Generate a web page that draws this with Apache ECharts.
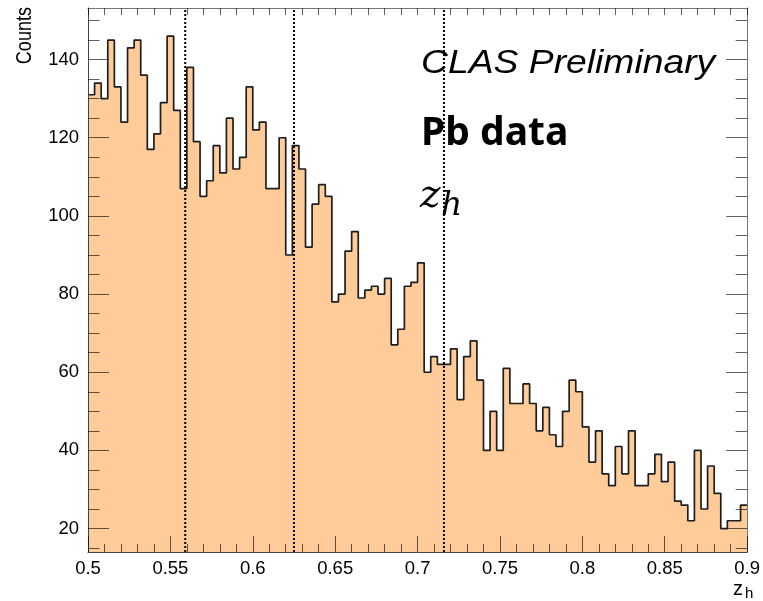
<!DOCTYPE html>
<html>
<head>
<meta charset="utf-8">
<script src="https://cdn.jsdelivr.net/npm/echarts@6/dist/echarts.min.js"></script>
<style>
  html, body { margin: 0; padding: 0; background: #fff; }
  #chart { width: 763px; height: 601px; }
</style>
</head>
<body>
<div id="chart"></div>
<script>
// z_h distribution, 100 uniform bins between 0.5 and 0.9
const zhRange = [0.5, 0.9];
const counts = [
  131, 134, 130, 145, 133, 124, 143, 145, 136, 117,
  121, 129, 146, 127, 107, 138, 119, 105, 109, 118,
  111, 125, 112, 115, 133, 122, 124, 107, 107, 120,
   90, 118, 112,  92, 103, 108, 105,  78,  80,  91,
   96,  79,  81,  82,  80,  84,  67,  71,  82,  83,
   88,  60,  64,  62,  62,  66,  53,  64,  68,  58,
   40,  50,  40,  61,  52,  52,  57,  52,  45,  51,
   44,  41,  50,  58,  55,  46,  37,  45,  34,  31,
   41,  34,  45,  31,  31,  34,  39,  32,  37,  27,
   26,  22,  40,  25,  36,  29,  20,  22,  22,  26
];
// z_h bin boundaries marked with dotted lines
const binCuts = [0.559, 0.625, 0.716];
// y-axis tick values
const yMajorTicks = [20, 40, 60, 80, 100, 120, 140];
const yMinorTicks = [15, 25, 30, 35, 45, 50, 55, 65, 70, 75, 85, 90, 95,
                     105, 110, 115, 125, 130, 135, 145, 150];
const yRange = [14, 153.2];

const binWidth = (zhRange[1] - zhRange[0]) / counts.length;
const stepData = counts.map((c, i) => [zhRange[0] + i * binWidth, c]);
stepData.push([zhRange[1], counts[counts.length - 1]]);

const tickColor = 'rgba(0,0,0,0.62)';
const labelFont = { fontSize: 18.5, color: '#000', fontFamily: 'Liberation Sans, Arial, sans-serif' };

const chart = echarts.init(document.getElementById('chart'), null, { renderer: 'canvas' });

function xAxisBase(pos) {
  return {
    type: 'value', position: pos, min: zhRange[0], max: zhRange[1], interval: 0.05,
    z: 6, splitLine: { show: false }, minorSplitLine: { show: false }
  };
}
function yAxisBase(pos) {
  return {
    type: 'value', position: pos, min: yRange[0], max: yRange[1],
    z: 6, splitLine: { show: false }
  };
}

// histogram outline + fill
const seriesList = [{
  type: 'line',
  xAxisIndex: 0,
  yAxisIndex: 0,
  step: 'end',
  data: stepData,
  symbol: 'none',
  lineStyle: { color: '#1e1e1e', width: 1.7 },
  areaStyle: { color: '#ffcc99', opacity: 1, origin: 'start' },
  z: 2
}];
// vertical dotted cut lines spanning the full frame height
binCuts.forEach(v => {
  seriesList.push({
    type: 'line',
    xAxisIndex: 0,
    yAxisIndex: 0,
    data: [[v, yRange[0]], [v, yRange[1]]],
    symbol: 'none',
    silent: true,
    lineStyle: { color: '#000', type: [2, 2], width: 2 },
    z: 4
  });
});

chart.setOption({
  animation: false,
  backgroundColor: '#fff',
  grid: { left: 88, right: 12, top: 8, bottom: 49, containLabel: false },
  xAxis: [
    Object.assign(xAxisBase('bottom'), {
      axisLine: { show: true, lineStyle: { color: '#444', width: 1 } },
      axisTick: { show: true, inside: true, length: 16, lineStyle: { color: tickColor, width: 1 } },
      minorTick: { show: true, splitNumber: 5, length: 8, lineStyle: { color: tickColor, width: 1 } },
      axisLabel: Object.assign({ margin: 7, formatter: v => String(+v.toFixed(2)) }, labelFont)
    }),
    Object.assign(xAxisBase('top'), {
      axisLine: { show: true, lineStyle: { color: '#777', width: 1 } },
      axisTick: { show: true, inside: true, length: 7, lineStyle: { color: tickColor, width: 1 } },
      minorTick: { show: true, splitNumber: 5, length: 7, lineStyle: { color: tickColor, width: 1 } },
      axisLabel: { show: false }
    })
  ],
  yAxis: [
    Object.assign(yAxisBase('left'), {
      axisLine: { show: true, lineStyle: { color: '#444', width: 1 } },
      axisTick: { show: true, inside: true, length: 21, customValues: yMajorTicks, lineStyle: { color: tickColor, width: 1 } },
      axisLabel: Object.assign({ margin: 9, customValues: yMajorTicks }, labelFont)
    }),
    Object.assign(yAxisBase('left'), {
      axisLine: { show: false },
      axisTick: { show: true, inside: true, length: 11.5, customValues: yMinorTicks, lineStyle: { color: tickColor, width: 1 } },
      axisLabel: { show: false }
    }),
    Object.assign(yAxisBase('right'), {
      axisLine: { show: true, lineStyle: { color: '#777', width: 1 } },
      axisTick: { show: true, inside: true, length: 21, customValues: yMajorTicks, lineStyle: { color: tickColor, width: 1 } },
      axisLabel: { show: false }
    }),
    Object.assign(yAxisBase('right'), {
      axisLine: { show: false },
      axisTick: { show: true, inside: true, length: 11.5, customValues: yMinorTicks, lineStyle: { color: tickColor, width: 1 } },
      axisLabel: { show: false }
    })
  ],
  series: seriesList,
  graphic: [
    { type: 'text', x: 25, y: 7, rotation: Math.PI / 2, scaleX: 0.82, z: 10,
      style: { text: 'Counts', font: '22px "Liberation Sans", Arial, sans-serif', fill: '#000',
               textAlign: 'right', textVerticalAlign: 'middle' } },
    { type: 'text', x: 733, y: 589, z: 10,
      style: { text: 'z', font: '20px "Liberation Sans", Arial, sans-serif', fill: '#000',
               textAlign: 'left', textVerticalAlign: 'middle' } },
    { type: 'text', x: 745, y: 594, z: 10,
      style: { text: 'h', font: '15px "Liberation Sans", Arial, sans-serif', fill: '#000',
               textAlign: 'left', textVerticalAlign: 'middle' } },
    { type: 'text', x: 421, y: 63.5, scaleX: 1.13, z: 10,
      style: { text: 'CLAS Preliminary', font: 'italic 33px "Liberation Sans", Arial, sans-serif', fill: '#000',
               textAlign: 'left', textVerticalAlign: 'middle' } },
    { type: 'text', x: 421, y: 134, z: 10,
      style: { text: 'Pb data', font: 'bold 39px "Noto Sans", sans-serif', fill: '#000',
               textAlign: 'left', textVerticalAlign: 'middle' } },
    { type: 'text', x: 420, y: 196.5, z: 10,
      style: { text: 'z', font: 'italic 39px "DejaVu Serif", serif', fill: '#000',
               textAlign: 'left', textVerticalAlign: 'middle' } },
    { type: 'text', x: 441, y: 206.5, z: 10,
      style: { text: 'h', font: 'italic 33px "DejaVu Serif", serif', fill: '#000',
               textAlign: 'left', textVerticalAlign: 'middle' } }
  ]
});
</script>
</body>
</html>
